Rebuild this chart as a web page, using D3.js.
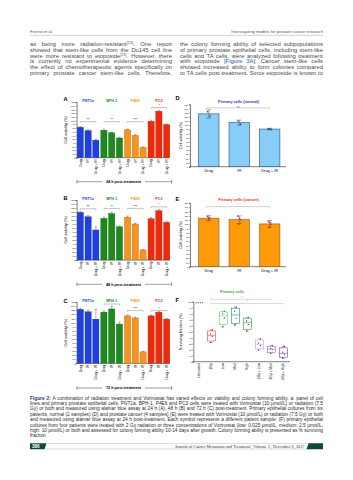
<!DOCTYPE html>
<html>
<head>
<meta charset="utf-8">
<script src="https://cdn.jsdelivr.net/npm/d3@7"></script>
<style>
body { margin: 0; background: #fff; }
text { font-family: "Liberation Sans", Arial, sans-serif; }
</style>
</head>
<body>
<div id="page"></div>
<script>
// ---- data ----
const cellLines = ["PNT1a", "BPH-1", "P4E6", "PC3"];
const treatments = ["Drug", "IR", "Drug + IR"];
const lineColors = ["#1f3fe0", "#1c8a1c", "#f7941d", "#ee2a0a"];

const viability24h = [[82, 73, 47], [74, 67, 53], [75, 60, 28], [98, 125, 89]];
const error24h = [[2, 2, 2], [3, 2, 2], [2, 2, 1], [3, 3, 2]];
const sig24h = ["***", "**", "****", "*"];
const sigLevel24h = [97, 97, 97, 135];

const viability48h = [[119, 108, 75], [104, 116, 83], [107, 90, 25], [103, 123, 94]];
const error48h = [[2, 3, 8], [3, 3, 2], [3, 2, 1], [3, 3, 3]];
const sig48h = ["***", "**", "****", "*"];
const sigLevel48h = [128, 129, 129, 133];

const viability72h = [[132, 126, 108], [125, 133, 96], [116, 111, 28], [116, 125, 108]];
const error72h = [[2, 4, 24], [3, 6, 5], [2, 2, 1], [2, 2, 2]];
const sig72h = [null, "*", "****", "*"];
const sigLevel72h = [null, 145, 129, 129];

const barTicks = [0, 10, 20, 30, 40, 50, 60, 70, 80, 90, 100, 110, 120, 130, 140, 150];

// primary cultures, one value per patient sample
const primaryNormal = [[132, 122], [110, 102], [91, 90]];
const normalErr = [10, 6, 2];
const primaryCancer = [[118, 114, 110, 115], [119, 110, 100, 114], [106, 100, 93, 104]];
const cancerErr = [6, 9, 8];

const colonyGroups = ["Untreated", "2Gy", "Low", "Med", "High", "2Gy + Low", "2Gy + Med", "2Gy + High"];
const colonyColors = ["#222", "#e04848", "#5ad85a", "#2a8a78", "#3c9a4a", "#c898ec", "#9a66d8", "#7044a8"];
const colonyPoints = [
  [100, 100, 100, 100], [32, 42, 46, 53], [58, 73, 80, 84], [61, 72, 84, 91],
  [51, 62, 68, 74], [19.5, 27, 31, 38], [14, 20, 22, 27], [6, 12, 16, 25.5]
];
const colonyTicks = [0, 10, 20, 30, 40, 50, 60, 70, 80, 90, 100];

// ---- page ----
const W = 353, H = 480;
const svg = d3.select("#page").append("svg").attr("width", W).attr("height", H);

// header
svg.append("text").attr("x", 30).attr("y", 33.2).style("font-size", "4.2px").style("fill", "#555").text("Fiorino et al.");
svg.append("text").attr("x", 323).attr("y", 33.2).attr("text-anchor", "end").style("font-size", "4.2px").style("fill", "#555")
  .text("Investigating models for prostate cancer research");
svg.append("line").attr("x1", 30).attr("x2", 323).attr("y1", 35.3).attr("y2", 35.3).attr("stroke", "#8a8a8a").attr("stroke-width", 0.4);

// body text, two justified columns
const leftCol = [
  [["as being more radiation-resistant"], ["[15]", "sup"], [". One report"]],
  [["showed that stem-like cells from the Du145 cell line"]],
  [["were more resistant to etoposide"], ["[21]", "sup"], [". However, there"]],
  [["is currently no experimental evidence determining"]],
  [["the effect of chemotherapeutic agents specifically on"]],
  [["primary prostate cancer stem-like cells. Therefore,"]]
];
const rightCol = [
  [["the colony forming ability of selected subpopulations"]],
  [["of primary prostate epithelial cells, including stem-like"]],
  [["cells and TA cells, were analyzed following treatment"]],
  [["with etoposide "], ["[Figure 3A]", "link"], [". Cancer stem-like cells"]],
  [["showed increased ability to form colonies compared"]],
  [["to TA cells post-treatment. Since etoposide is known to"]]
];

// justify each line by word spacing; squeeze glyphs only when too long
function writeLines(lines, x, y0, step, width, size, color, lastFree) {
  lines.forEach((segs, i) => {
    const t = svg.append("text").attr("x", x).attr("y", y0 + i * step)
      .style("font-size", size + "px").style("fill", color);
    segs.forEach(s => {
      const ts = t.append("tspan").text(s[0]);
      if (s[1] === "sup") ts.style("font-size", (size * 0.65) + "px").attr("baseline-shift", "super");
      if (s[1] === "link") ts.style("fill", "#2456a8");
      if (s[1] === "bold") ts.style("font-weight", "bold").style("fill", "#1d3c78");
    });
    if (lastFree && i === lines.length - 1) return;
    const len = t.node().getComputedTextLength();
    const spaces = segs.map(s => s[0]).join("").split(" ").length - 1;
    if (len < width && spaces > 0) {
      t.style("word-spacing", ((width - len) / spaces) + "px");
    } else {
      t.attr("textLength", width).attr("lengthAdjust", "spacingAndGlyphs");
    }
  });
}
writeLines(leftCol, 30, 46.1, 5.7, 142, 5.85, "#4a4a4a", false);
writeLines(rightCol, 180, 46.1, 5.7, 143, 5.85, "#4a4a4a", false);

// ---- panels A-C: cell lines ----
const barPanels = [
  { letter: "A", vals: viability24h, err: error24h, sig: sig24h, sigLevel: sigLevel24h, top: 102, bottom: 157.7, letterY: 100.5, label: "24 h post-treatment", bracketY: 181.7 },
  { letter: "B", vals: viability48h, err: error48h, sig: sig48h, sigLevel: sigLevel48h, top: 200, bottom: 260, letterY: 199.7, label: "48 h post-treatment", bracketY: 284.3 },
  { letter: "C", vals: viability72h, err: error72h, sig: sig72h, sigLevel: sigLevel72h, top: 302, bottom: 363.3, letterY: 303, label: "72 h post-treatment", bracketY: 388 }
];

const gx = d3.scaleBand().domain(cellLines).range([77, 170]).paddingInner(0.06);
const tx = d3.scaleBand().domain(treatments).range([0, gx.bandwidth()]).paddingInner(0.2).paddingOuter(0.03);

barPanels.forEach(p => {
  const g = svg.append("g");
  const y = d3.scaleLinear().domain([0, 150]).range([p.bottom, p.top]);

  g.append("text").attr("x", 63.5).attr("y", p.letterY).style("font-size", "5.6px").style("font-weight", "bold").text(p.letter);

  // y axis
  const ax = g.append("g").attr("transform", "translate(76.6,0)")
    .call(d3.axisLeft(y).tickValues(barTicks).tickSize(1.1).tickPadding(0.6));
  ax.select(".domain").attr("stroke-width", 0.5);
  ax.selectAll(".tick line").attr("stroke-width", 0.35);
  ax.selectAll("text").style("font-size", "2.2px").attr("font-family", "Liberation Sans");
  g.append("text").attr("transform", `translate(67.2,${(p.top + p.bottom) / 2}) rotate(-90)`)
    .attr("text-anchor", "middle").style("font-size", "3.9px").text("Cell viability (%)");
  g.append("line").attr("x1", 76.6).attr("x2", 170).attr("y1", p.bottom).attr("y2", p.bottom).attr("stroke", "#000").attr("stroke-width", 0.5);

  cellLines.forEach((cl, gi) => {
    const x0 = gx(cl);
    // group label
    g.append("text").attr("x", x0 + gx.bandwidth() / 2).attr("y", p.top + 0.3)
      .attr("text-anchor", "middle").style("font-size", "3.7px").style("font-weight", "bold")
      .style("fill", lineColors[gi]).text(cl);

    treatments.forEach((tr, ti) => {
      const v = p.vals[gi][ti], e = p.err[gi][ti];
      const bx = x0 + tx(tr), cx = bx + tx.bandwidth() / 2;
      g.append("rect").attr("x", bx).attr("y", y(v)).attr("width", tx.bandwidth()).attr("height", p.bottom - y(v))
        .attr("fill", lineColors[gi]).attr("stroke", d3.color(lineColors[gi]).darker(1.2)).attr("stroke-width", 0.35);
      g.append("line").attr("x1", cx).attr("x2", cx).attr("y1", y(v)).attr("y2", y(v + e)).attr("stroke", "#222").attr("stroke-width", 0.35);
      g.append("line").attr("x1", cx - 1.2).attr("x2", cx + 1.2).attr("y1", y(v + e)).attr("y2", y(v + e)).attr("stroke", "#222").attr("stroke-width", 0.35);
      g.append("text").attr("transform", `translate(${cx},${p.bottom + 1.6}) rotate(-90)`)
        .attr("text-anchor", "end").attr("dy", "0.35em").style("font-size", "3.4px").text(tr);
    });

    if (p.sig[gi]) {
      const yy = y(p.sigLevel[gi]);
      const a = x0 + tx(treatments[0]) + tx.bandwidth() / 2;
      const b = x0 + tx(treatments[2]) + tx.bandwidth() / 2;
      g.append("path").attr("d", `M${a},${yy + 1.1}V${yy}H${b}V${yy + 1.1}`).attr("fill", "none").attr("stroke", "#333").attr("stroke-width", 0.3);
      g.append("text").attr("x", (a + b) / 2).attr("y", yy - 0.4).attr("text-anchor", "middle").style("font-size", "2.6px").text(p.sig[gi]);
    }
  });

  // time bracket
  const by = p.bracketY;
  g.append("path").attr("d", `M77,${by - 2}V${by + 2}M77,${by}H171.7M171.7,${by - 2}V${by + 2}`)
    .attr("stroke", "#222").attr("stroke-width", 0.45).attr("fill", "none");
  g.append("rect").attr("x", 102).attr("y", by - 2.2).attr("width", 43).attr("height", 4.4).attr("fill", "#fff");
  g.append("text").attr("x", 123.5).attr("y", by + 1.3).attr("text-anchor", "middle")
    .style("font-size", "3.8px").style("font-weight", "bold").text(p.label);
});

// ---- panels D, E: primary cultures ----
const primaryPanels = [
  { letter: "D", title: "Primary cells (normal)", titleColor: "#2b3bb0", pts: primaryNormal, err: normalErr,
    fill: "#87cdf8", stroke: "#1e4f7a", dot: "#1a2a9a", top: 104.3, bottom: 166.7, letterY: 100.3, sig: "ns" },
  { letter: "E", title: "Primary cells (cancer)", titleColor: "#dd3322", pts: primaryCancer, err: cancerErr,
    fill: "#ff9a0a", stroke: "#8a5a22", dot: "#cc2020", top: 203, bottom: 266.7, letterY: 201.3, sig: "*" }
];
const px = d3.scaleBand().domain(treatments).range([192.5, 286]).paddingInner(0.33).paddingOuter(0.2);

primaryPanels.forEach(p => {
  const g = svg.append("g");
  const y = d3.scaleLinear().domain([0, 150]).range([p.bottom, p.top]);
  g.append("text").attr("x", 175.5).attr("y", p.letterY).style("font-size", "5.6px").style("font-weight", "bold").text(p.letter);
  g.append("text").attr("x", 238.5).attr("y", p.top - 1.8).attr("text-anchor", "middle")
    .style("font-size", "3.9px").style("font-weight", "bold").style("fill", p.titleColor).text(p.title);

  const ax = g.append("g").attr("transform", "translate(190,0)")
    .call(d3.axisLeft(y).tickValues(barTicks).tickSize(1.1).tickPadding(0.6));
  ax.select(".domain").attr("stroke-width", 0.5);
  ax.selectAll(".tick line").attr("stroke-width", 0.35);
  ax.selectAll("text").style("font-size", "2.2px");
  g.append("text").attr("transform", `translate(182,${(p.top + p.bottom) / 2}) rotate(-90)`)
    .attr("text-anchor", "middle").style("font-size", "3.9px").text("Cell viability (%)");
  g.append("line").attr("x1", 190).attr("x2", 286).attr("y1", p.bottom).attr("y2", p.bottom).attr("stroke", "#000").attr("stroke-width", 0.5);

  treatments.forEach((tr, i) => {
    const m = d3.mean(p.pts[i]);
    const bx = px(tr), cx = bx + px.bandwidth() / 2;
    g.append("rect").attr("x", bx).attr("y", y(m)).attr("width", px.bandwidth()).attr("height", p.bottom - y(m))
      .attr("fill", p.fill).attr("stroke", p.stroke).attr("stroke-width", 0.6);
    g.append("path").attr("d", `M${cx},${y(m - p.err[i])}V${y(m + p.err[i])}M${cx - 2.5},${y(m + p.err[i])}H${cx + 2.5}M${cx - 2.5},${y(m - p.err[i])}H${cx + 2.5}`)
      .attr("stroke", "#333").attr("stroke-width", 0.4);
    p.pts[i].forEach((v, k) => {
      g.append("circle").attr("cx", cx + (k % 2 ? 1.2 : -1.2) * (k > 1 ? 0.4 : 1)).attr("cy", y(v)).attr("r", 0.8).attr("fill", p.dot);
    });
    g.append("text").attr("x", cx).attr("y", p.bottom + 5.2).attr("text-anchor", "middle").style("font-size", "3.9px").text(tr);
  });

  const yy = p.top + 3.6;
  const a = px(treatments[0]) + px.bandwidth() / 2 - 2, b = px(treatments[2]) + px.bandwidth() / 2;
  g.append("path").attr("d", `M${a},${yy + 1.2}V${yy}H${b}V${yy + 1.2}`).attr("fill", "none").attr("stroke", "#777").attr("stroke-width", 0.35);
  g.append("text").attr("x", (a + b) / 2).attr("y", yy - 0.4).attr("text-anchor", "middle").style("font-size", "2.6px").style("fill", "#555").text(p.sig);
});

// ---- panel F: colony forming box plots ----
function q6(arr, p) {
  const s = arr.slice().sort(d3.ascending), h = (s.length + 1) * p - 1;
  const lo = Math.max(0, Math.floor(h)), hi = Math.min(s.length - 1, lo + 1);
  return s[lo] + (h - lo) * (s[hi] - s[lo]);
}
{
  const g = svg.append("g");
  const top = 301.7, bottom = 361.7;
  const y = d3.scaleLinear().domain([0, 100]).range([bottom, top]);
  const fx = d3.scaleBand().domain(colonyGroups).range([193.3, 289.3]);

  g.append("text").attr("x", 175.5).attr("y", 302.2).style("font-size", "5.6px").style("font-weight", "bold").text("F");
  g.append("text").attr("x", 232).attr("y", 293.3).attr("text-anchor", "middle")
    .style("font-size", "3.9px").style("font-weight", "bold").style("fill", "#3aaa3a").text("Primary cells");

  const ax = g.append("g").attr("transform", "translate(193.3,0)")
    .call(d3.axisLeft(y).tickValues(colonyTicks).tickSize(1.1).tickPadding(0.6));
  ax.select(".domain").attr("stroke-width", 0.5);
  ax.selectAll(".tick line").attr("stroke-width", 0.35);
  ax.selectAll("text").style("font-size", "2.2px");
  g.append("text").attr("transform", `translate(182,${(top + bottom) / 2}) rotate(-90)`)
    .attr("text-anchor", "middle").style("font-size", "3.9px").text("Surviving fraction (%)");
  g.append("line").attr("x1", 193.3).attr("x2", 290).attr("y1", bottom).attr("y2", bottom).attr("stroke", "#000").attr("stroke-width", 0.5);

  colonyGroups.forEach((grp, i) => {
    const pts = colonyPoints[i], c = colonyColors[i];
    const cx = fx(grp) + fx.bandwidth() / 2, bw = 8;
    const mn = d3.min(pts), mx = d3.max(pts), q1 = q6(pts, 0.25), q3 = q6(pts, 0.75), md = q6(pts, 0.5);
    if (mx > mn) {
      g.append("path").attr("d", `M${cx},${y(mx)}V${y(q3)}M${cx},${y(q1)}V${y(mn)}M${cx - 1.5},${y(mx)}H${cx + 1.5}M${cx - 1.5},${y(mn)}H${cx + 1.5}`)
        .attr("stroke", c).attr("stroke-width", 0.5);
      g.append("rect").attr("x", cx - bw / 2).attr("y", y(q3)).attr("width", bw).attr("height", y(q1) - y(q3))
        .attr("fill", "#fff").attr("stroke", c).attr("stroke-width", 0.6);
      g.append("line").attr("x1", cx - bw / 2).attr("x2", cx + bw / 2).attr("y1", y(md)).attr("y2", y(md)).attr("stroke", c).attr("stroke-width", 0.6);
    }
    pts.forEach((v, k) => {
      const off = mx > mn ? (k % 2 ? 1 : -0.6) : (k - 1.5) * 2;
      g.append("circle").attr("cx", cx + off).attr("cy", y(v) + (mx > mn ? 0 : 1)).attr("r", 0.55).attr("fill", "#111");
    });
    g.append("text").attr("transform", `translate(${cx},${bottom + 1.6}) rotate(-90)`)
      .attr("text-anchor", "end").attr("dy", "0.35em").style("font-size", "3.3px").text(grp);
  });

  // significance brackets
  const a = fx("2Gy") + fx.bandwidth() / 2 - 1;
  const b1 = fx("2Gy + Med") + fx.bandwidth() / 2, b2 = fx("2Gy + High") + fx.bandwidth() / 2;
  [[299.3, b1], [303.5, b2]].forEach(([yy, b]) => {
    g.append("path").attr("d", `M${a},${yy + 1.1}V${yy}H${b}V${yy + 1.1}`).attr("fill", "none").attr("stroke", "#888").attr("stroke-width", 0.3);
    g.append("text").attr("x", (a + b) / 2 + 1).attr("y", yy - 0.3).attr("text-anchor", "middle").style("font-size", "2.8px").style("fill", "#555").text("*");
  });
}

// ---- caption ----
const caption = [
  [["Figure 2:", "bold"], [" A combination of radiation treatment and Vorinostat has varied effects on viability and colony forming ability. a: panel of cell"]],
  [["lines and primary prostate epithelial cells. PNT1a, BPH-1, P4E6 and PC3 cells were treated with Vorinostat (10 µmol/L) or radiation (7.5"]],
  [["Gy) or both and measured using alamar blue assay at 24 h (A), 48 h (B) and 72 h (C) post-treatment. Primary epithelial cultures from six"]],
  [["patients, normal (2 samples) (D) and prostate cancer (4 samples) (E) were treated with Vorinostat (10 µmol/L) or radiation (7.5 Gy) or both"]],
  [["and measured using alamar blue assay at 24 h post-treatment. Each symbol represents a different patient sample; (F) primary epithelial"]],
  [["cultures from four patients were treated with 2 Gy radiation or three concentrations of Vorinostat (low: 0.025 µmol/L, medium: 2.5 µmol/L,"]],
  [["high: 10 µmol/L) or both and assessed for colony forming ability 10-14 days after growth. Colony forming ability is presented as % surviving"]],
  [["fraction"]]
];
writeLines(caption, 30, 399.6, 5.4, 293, 4.8, "#2a2a2a", true);

// ---- footer ----
const green = "#0e4a3a";
svg.append("path").attr("d", "M30,443.2H46.5L44.5,449.2H30Z").attr("fill", green);
svg.append("text").attr("x", 32).attr("y", 447.9).style("font-size", "4.6px").style("font-weight", "bold")
  .style("fill", "#fff").attr("font-family", "Liberation Serif").text("386");
svg.append("line").attr("x1", 46.5).attr("x2", 308.5).attr("y1", 443.4).attr("y2", 443.4).attr("stroke", "#9aa").attr("stroke-width", 0.4);
svg.append("line").attr("x1", 44.5).attr("x2", 306.5).attr("y1", 449).attr("y2", 449).attr("stroke", "#9aa").attr("stroke-width", 0.4);
svg.append("text").attr("x", 304.5).attr("y", 447.7).attr("text-anchor", "end").style("font-size", "4.3px")
  .style("font-family", "Liberation Serif").style("fill", "#333")
  .text("Journal of Cancer Metastasis and Treatment ¦ Volume 3 ¦ December 6, 2017");
svg.append("path").attr("d", "M308.5,443.2H323V449.2H306.5Z").attr("fill", green);
</script>
</body>
</html>
